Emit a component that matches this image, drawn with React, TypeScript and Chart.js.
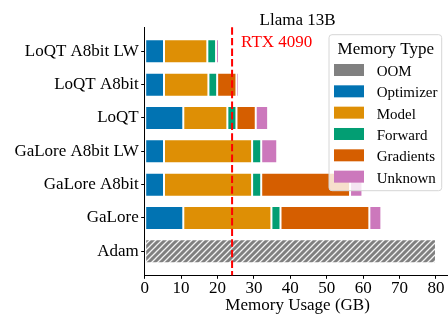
import React, { useEffect, useRef } from "react";
import { Chart, registerables } from "chart.js";

Chart.register(...registerables);

const categories = [
  "LoQT A8bit LW",
  "LoQT A8bit",
  "LoQT",
  "GaLore A8bit LW",
  "GaLore A8bit",
  "GaLore",
  "Adam",
];
const oom = [null, null, null, null, null, null, 80];
const optimizer = [5.3, 5.3, 10.6, 5.3, 5.3, 10.6, null];
const model = [11.9, 12.2, 12.1, 24.2, 24.2, 24.2, null];
const forward = [2.4, 2.4, 2.5, 2.5, 2.5, 2.5, null];
const gradients = [null, 5.3, 5.3, null, 24.4, 24.4, null];
const unknown = [0.8, 0.7, 3.4, 4.4, 3.4, 3.3, null];
const seriesNames = ["OOM", "Optimizer", "Model", "Forward", "Gradients", "Unknown"];
const seriesColors = ["#808080", "#0173B2", "#DE8F05", "#029E73", "#D55E00", "#CC78BC"];
const xTicks = [0, 10, 20, 30, 40, 50, 60, 70, 80];
const gpuLimit = 24;
const gpuLabel = "RTX 4090";
const chartTitle = "Llama 13B";
const xTitle = "Memory Usage (GB)";
const legendTitle = "Memory Type";

const FONT = '"Liberation Serif", "Times New Roman", serif';

function makeHatch(): CanvasPattern | string {
  const c = document.createElement("canvas");
  const s = 6;
  c.width = s;
  c.height = s;
  const g = c.getContext("2d");
  if (!g) return "#808080";
  g.fillStyle = "#808080";
  g.fillRect(0, 0, s, s);
  g.strokeStyle = "rgba(255,255,255,0.9)";
  g.lineWidth = 1.3;
  g.beginPath();
  g.moveTo(-1, s + 1);
  g.lineTo(s + 1, -1);
  g.moveTo(-1, 1);
  g.lineTo(1, -1);
  g.moveTo(s - 1, s + 1);
  g.lineTo(s + 1, s - 1);
  g.stroke();
  const p = g.createPattern(c, "repeat");
  return p || "#808080";
}

function toPoints(arr: (number | null)[]) {
  return arr.map((v, i) => ({ x: v, y: i }));
}

export default function App() {
  const ref = useRef<HTMLCanvasElement>(null);

  useEffect(() => {
    document.body.style.margin = "0";
    const canvas = ref.current;
    if (!canvas) return;
    const hatch = makeHatch();
    const values = [oom, optimizer, model, forward, gradients, unknown];

    const decor = {
      id: "decor",
      afterDatasetsDraw(chart: any) {
        const { ctx, chartArea, scales } = chart;
        const x = scales.x.getPixelForValue(gpuLimit);
        ctx.save();
        ctx.strokeStyle = "#ff0000";
        ctx.lineWidth = 2;
        ctx.setLineDash([7.4, 3.2]);
        ctx.beginPath();
        ctx.moveTo(x, chartArea.top);
        ctx.lineTo(x, chartArea.bottom);
        ctx.stroke();
        ctx.restore();
      },
      afterDraw(chart: any) {
        const { ctx, scales } = chart;
        const x0 = scales.x.getPixelForValue(gpuLimit);
        ctx.save();
        ctx.textBaseline = "alphabetic";
        // title
        ctx.font = `17px ${FONT}`;
        ctx.fillStyle = "#000";
        ctx.textAlign = "center";
        ctx.fillText(chartTitle, 297.6, 24.5);
        // x title
        ctx.fillText(xTitle, 297.6, 309.5);
        // gpu label
        ctx.fillStyle = "#ff0000";
        ctx.textAlign = "left";
        ctx.fillText(gpuLabel, x0 + 9, 46.5);
        // legend
        const lx = 329, ly = 34.7, lw = 112.7, lh = 156;
        ctx.beginPath();
        const r = 3;
        ctx.moveTo(lx + r, ly);
        ctx.lineTo(lx + lw - r, ly);
        ctx.quadraticCurveTo(lx + lw, ly, lx + lw, ly + r);
        ctx.lineTo(lx + lw, ly + lh - r);
        ctx.quadraticCurveTo(lx + lw, ly + lh, lx + lw - r, ly + lh);
        ctx.lineTo(lx + r, ly + lh);
        ctx.quadraticCurveTo(lx, ly + lh, lx, ly + lh - r);
        ctx.lineTo(lx, ly + r);
        ctx.quadraticCurveTo(lx, ly, lx + r, ly);
        ctx.closePath();
        ctx.fillStyle = "rgba(255,255,255,0.8)";
        ctx.fill();
        ctx.strokeStyle = "#d6d6d6";
        ctx.lineWidth = 1;
        ctx.stroke();
        ctx.fillStyle = "#000";
        ctx.textAlign = "center";
        ctx.font = `17px ${FONT}`;
        ctx.fillText(legendTitle, 385.8, 54);
        ctx.textAlign = "left";
        ctx.font = `15px ${FONT}`;
        seriesNames.forEach((name, i) => {
          const cy = 70 + 21.33 * i;
          ctx.fillStyle = seriesColors[i];
          ctx.fillRect(334, cy - 6, 30, 12);
          ctx.fillStyle = "#000";
          ctx.fillText(name, 376.7, cy + 6);
        });
        ctx.restore();
      },
    };

    const chart = new Chart(canvas, {
      type: "bar",
      data: {
        datasets: seriesNames.map((name, i) => ({
          label: name,
          data: toPoints(values[i]) as any,
          backgroundColor: i === 0 ? (hatch as any) : seriesColors[i],
          borderColor: "#ffffff",
          borderWidth: 1,
          borderSkipped: false,
          categoryPercentage: 1,
          barPercentage: 0.72,
        })),
      },
      options: {
        indexAxis: "y",
        responsive: false,
        animation: false,
        events: [],
        layout: { padding: { top: 27.3, right: 0, left: 0, bottom: 0 } },
        plugins: {
          legend: { display: false },
          tooltip: { enabled: false },
          title: { display: false },
        },
        scales: {
          x: {
            type: "linear",
            stacked: true,
            min: 0,
            max: 83.3,
            afterBuildTicks: (s: any) => {
              s.ticks = xTicks.map((v) => ({ value: v }));
            },
            afterFit: (s: any) => {
              s.height = 38.7;
            },
            grid: {
              drawOnChartArea: false,
              drawTicks: true,
              tickLength: 3.5,
              color: "#000",
            },
            border: { display: true, color: "#000", width: 1 },
            ticks: {
              padding: 0,
              color: "#000",
              font: { family: FONT, size: 17 },
              maxRotation: 0,
              autoSkip: false,
            },
          },
          y: {
            type: "linear",
            stacked: true,
            reverse: true,
            offset: false,
            min: -0.72,
            max: 6.72,
            afterBuildTicks: (s: any) => {
              s.ticks = categories.map((_, i) => ({ value: i }));
            },
            afterFit: (s: any) => {
              s.width = 144.7;
            },
            grid: {
              offset: false,
              drawOnChartArea: false,
              drawTicks: true,
              tickLength: 3.5,
              color: "#000",
            },
            border: { display: true, color: "#000", width: 1 },
            ticks: {
              padding: 2.5,
              color: "#000",
              autoSkip: false,
              font: { family: FONT, size: 17 },
              callback: (v: any) => categories[v as number] ?? "",
            },
          },
        },
      } as any,
      plugins: [decor],
    });
    return () => chart.destroy();
  }, []);

  return (
    <div style={{ width: 448, height: 314 }}>
      <canvas ref={ref} width={448} height={314} style={{ display: "block" }} />
    </div>
  );
}
